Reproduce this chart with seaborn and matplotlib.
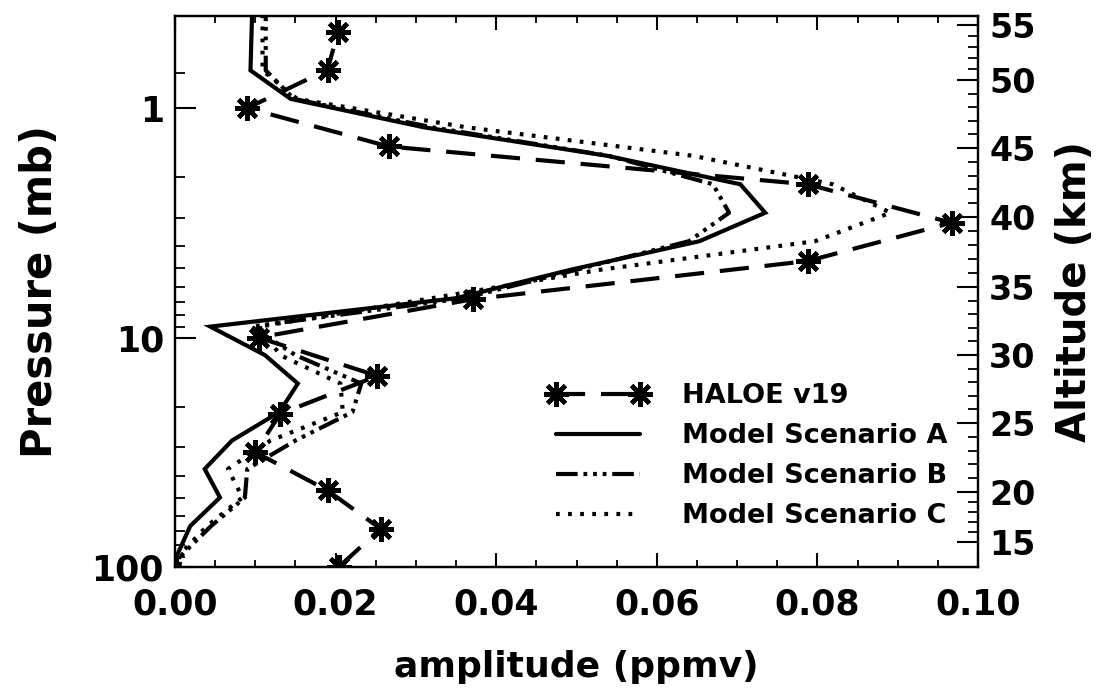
import numpy as np
import matplotlib
matplotlib.use("Agg")
import matplotlib.pyplot as plt
from matplotlib.ticker import FixedLocator, FixedFormatter, NullFormatter
from matplotlib.lines import Line2D
import seaborn as sns

# HALOE v19 amplitude on its pressure levels (mb)
haloe_p = [100.0, 68.1, 46.4, 31.6, 21.5, 14.7, 10.0, 6.81, 4.64, 3.16,
           2.15, 1.47, 1.0, 0.681, 0.464]
haloe_amp = [0.0204, 0.0256, 0.0190, 0.0100, 0.0131, 0.0252, 0.0104, 0.0371,
             0.0788, 0.0967, 0.0788, 0.0266, 0.0090, 0.0190, 0.0203]

# model pressure levels (mb), bottom to top
model_p = [117.3, 88.15, 66.26, 49.79, 37.41, 28.11, 21.12, 15.87, 11.93,
           8.962, 6.738, 5.063, 3.805, 2.859, 2.148, 1.614, 1.213, 0.912,
           0.685, 0.515, 0.387]
scen_a = [0.0000, 0.0003, 0.0019, 0.0056, 0.0037, 0.0071, 0.0130, 0.0153,
          0.0112, 0.0044, 0.0350, 0.0493, 0.0653, 0.0735, 0.0704, 0.0538,
          0.0310, 0.0144, 0.0094, 0.0095, 0.0096]
scen_b = [0.0000, 0.0009, 0.0045, 0.0087, 0.0090, 0.0150, 0.0221, 0.0232,
          0.0150, 0.0095, 0.0360, 0.0500, 0.0640, 0.0690, 0.0670, 0.0540,
          0.0320, 0.0148, 0.0113, 0.0113, 0.0113]
scen_c = [0.0000, 0.0006, 0.0040, 0.0084, 0.0066, 0.0119, 0.0209, 0.0206,
          0.0131, 0.0105, 0.0320, 0.0530, 0.0797, 0.0891, 0.0819, 0.0645,
          0.0363, 0.0152, 0.0109, 0.0109, 0.0109]

# altitude scale on the right: altitude (km) and its pressure (mb)
alt_km = [15, 20, 25, 30, 35, 40, 45, 50, 55]
alt_p = [77.8, 47.1, 23.6, 11.9, 6.03, 2.99, 1.49, 0.755, 0.435]

x_ticks = [0.00, 0.02, 0.04, 0.06, 0.08, 0.10]
x_ticklabels = ["0.00", "0.02", "0.04", "0.06", "0.08", "0.10"]
p_ticks = [1, 10, 100]
p_ticklabels = ["1", "10", "100"]

sns.set_style("white")
plt.rcParams["font.family"] = ["DejaVu Sans"]
plt.rcParams.update({
    "font.weight": "bold",
    "axes.linewidth": 1.6,
    "axes.edgecolor": "black",
    "text.color": "black",
    "axes.labelcolor": "black",
    "xtick.color": "black",
    "ytick.color": "black",
})

W, H = 1107, 694
fig = plt.figure(figsize=(W / 100, H / 100), dpi=100)
fig.subplots_adjust(left=175 / W, right=978 / W, bottom=1 - 567 / H, top=1 - 16 / H)
ax = fig.add_subplot(111)
ax.set_yscale("log")

LW = 3.0
dash_haloe = (0, (7.0, 3.8))
dash_b = (0, (5.2, 1.4, 0.9, 1.4, 0.9, 1.4, 0.9, 1.4))
dot_c = (0, (0.9, 2.0))
star = (8, 2, 0)

sns.lineplot(x=scen_a, y=model_p, sort=False, estimator=None, ax=ax,
             color="black", lw=LW, linestyle="-", solid_joinstyle="miter")
sns.lineplot(x=scen_b, y=model_p, sort=False, estimator=None, ax=ax,
             color="black", lw=LW, linestyle=dash_b, dash_capstyle="butt")
sns.lineplot(x=scen_c, y=model_p, sort=False, estimator=None, ax=ax,
             color="black", lw=LW, linestyle=dot_c, dash_capstyle="butt")
sns.lineplot(x=haloe_amp, y=haloe_p, sort=False, estimator=None, ax=ax,
             color="black", lw=LW, linestyle=dash_haloe, dash_capstyle="butt",
             marker=star, markersize=18, markeredgewidth=3.2,
             markeredgecolor="black")

ax.set_xlim(0.0, 0.10)
ax.set_ylim(100, 0.397)

ax.xaxis.set_major_locator(FixedLocator(x_ticks))
ax.xaxis.set_major_formatter(FixedFormatter(x_ticklabels))
ax.xaxis.set_minor_locator(FixedLocator(np.arange(0, 0.1001, 0.005)))
ax.yaxis.set_major_locator(FixedLocator(p_ticks))
ax.yaxis.set_major_formatter(FixedFormatter(p_ticklabels))
minor_p = [0.7] + [m * d for d in (1, 10) for m in range(2, 10)]
ax.yaxis.set_minor_locator(FixedLocator(minor_p))
ax.yaxis.set_minor_formatter(NullFormatter())

ax.tick_params(axis="x", which="major", direction="in", length=10, width=1.5,
               top=True, bottom=True, labelsize=25, pad=15)
ax.tick_params(axis="x", which="minor", direction="in", length=5, width=1.3,
               top=True, bottom=True)
ax.tick_params(axis="y", which="major", direction="in", length=15, width=1.5,
               left=True, right=False, labelsize=25, pad=8)
ax.tick_params(axis="y", which="minor", direction="in", length=7, width=1.3,
               left=True, right=False)

ax.set_xlabel("amplitude (ppmv)", fontsize=26, fontweight="bold", labelpad=20)
ax.set_ylabel("Pressure (mb)", fontsize=30, fontweight="bold", labelpad=22)

# altitude axis sharing the pressure scale
ax2 = ax.twinx()
ax2.set_yscale("log")
ax2.set_ylim(ax.get_ylim())
ax2.yaxis.set_major_locator(FixedLocator(alt_p))
ax2.yaxis.set_major_formatter(FixedFormatter([str(a) for a in alt_km]))
km_minor = [k for k in range(15, 56) if k % 5 != 0]
minor_alt_p = 10 ** np.interp(km_minor, alt_km, np.log10(alt_p))
ax2.yaxis.set_minor_locator(FixedLocator(minor_alt_p))
ax2.yaxis.set_minor_formatter(NullFormatter())
ax2.tick_params(axis="y", which="major", direction="in", length=15, width=1.5,
                labelsize=24, pad=8)
ax2.tick_params(axis="y", which="minor", direction="in", length=7, width=1.3)
ax2.set_ylabel("Altitude (km)", fontsize=29, fontweight="bold", labelpad=14)

handles = [
    Line2D([], [], color="black", lw=LW, linestyle=dash_haloe,
           dash_capstyle="butt", marker=star, markersize=18,
           markeredgewidth=3.2),
    Line2D([], [], color="black", lw=LW, linestyle="-"),
    Line2D([], [], color="black", lw=LW, linestyle=dash_b, dash_capstyle="butt"),
    Line2D([], [], color="black", lw=LW, linestyle=dot_c, dash_capstyle="butt"),
]
labels = ["HALOE v19", "Model Scenario A", "Model Scenario B", "Model Scenario C"]
leg = ax.legend(handles, labels, loc="upper left",
                bbox_to_anchor=((548 - 175) / 803, (567 - 383) / 551),
                frameon=False, numpoints=2, handlelength=3.7, handletextpad=1.25,
                labelspacing=0.52, borderpad=0, borderaxespad=0,
                prop={"size": 19.5, "weight": "bold"})

fig.savefig("out.png", dpi=100)
